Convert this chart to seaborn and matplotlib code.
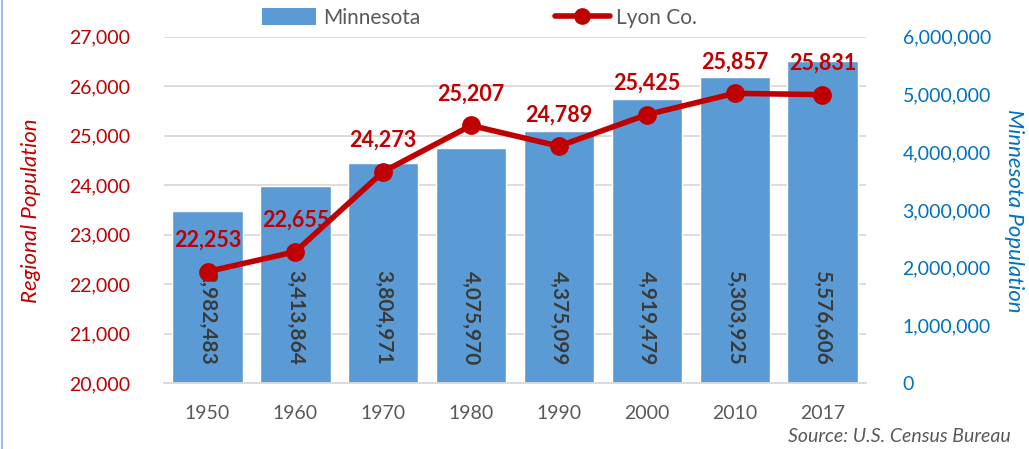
import numpy as np
import pandas as pd
import seaborn as sns
from matplotlib import pyplot as plt
from matplotlib.lines import Line2D
from matplotlib.patches import Patch
from matplotlib.ticker import FuncFormatter

years = ['1950', '1960', '1970', '1980', '1990', '2000', '2010', '2017']
minnesota = [2982483, 3413864, 3804971, 4075970, 4375099, 4919479, 5303925, 5576606]
lyon = [22253, 22655, 24273, 25207, 24789, 25425, 25857, 25831]

left_ticks = [20000, 21000, 22000, 23000, 24000, 25000, 26000, 27000]
right_ticks = [0, 1000000, 2000000, 3000000, 4000000, 5000000, 6000000]

blue = '#5B9BD5'
red = '#C00000'
axis_blue = '#0070C0'
gray = '#595959'

sns.set_style('white')
plt.rcParams['font.family'] = ['Lato', 'DejaVu Sans']

df = pd.DataFrame({'year': years, 'mn': minnesota, 'lyon': lyon})

fig = plt.figure(figsize=(10.29, 4.49), dpi=100)
ax = fig.add_axes([0.159, 0.147, 0.683, 0.771])

# bars on the main axes (right scale)
sns.barplot(data=df, x='year', y='mn', color=blue, saturation=1, width=0.8,
            ax=ax, zorder=2)
ax.set_ylim(0, 6000000)
ax.set_xlim(-0.5, len(years) - 0.5)

# gridlines follow the left scale, behind the bars
for v in left_ticks:
    ax.axhline((v - 20000) / 7000 * 6000000, color='#D9D9D9', lw=1.3, zorder=0)

for i, v in enumerate(minnesota):
    ax.text(i, 310000, f'{v:,}', rotation=270, rotation_mode='anchor',
            ha='right', va='center', fontsize=15, fontweight='bold',
            color='#3A3A3A', zorder=3)

ax.set_xlabel('')
ax.set_ylabel('')
for s in ['top', 'left', 'right']:
    ax.spines[s].set_visible(False)
ax.spines['bottom'].set_color('#D9D9D9')
ax.spines['bottom'].set_linewidth(1.3)

# line on a twin axes (left scale)
ax2 = ax.twinx()
sns.pointplot(data=df, x='year', y='lyon', color=red, markers='o',
              markersize=10.5, linewidth=4, ax=ax2)
ax2.set_ylim(20000, 27000)
ax2.set_xlim(-0.5, len(years) - 0.5)
ax2.yaxis.tick_left()
ax2.set_yticks(left_ticks)
ax2.yaxis.set_major_formatter(FuncFormatter(lambda v, p: f'{int(v):,}'))
ax2.tick_params(axis='y', colors=red, labelsize=14, length=0, pad=24)
ax2.set_ylabel('')
ax2.set_xlabel('')
for s in ax2.spines.values():
    s.set_visible(False)

# right scale ticks on the bar axes (after twinx)
ax.yaxis.tick_right()
ax.set_yticks(right_ticks)
ax.yaxis.set_major_formatter(FuncFormatter(lambda v, p: f'{int(v):,}'))
ax.tick_params(axis='y', colors=axis_blue, labelsize=14, length=0, pad=26)
ax.tick_params(axis='x', colors=gray, labelsize=14, length=0, pad=16)

for i, v in enumerate(lyon):
    ax2.text(i, v + 420, f'{v:,}', ha='center', va='bottom', fontsize=15.5,
             fontweight='bold', color=red)

fig.text(0.03, 0.53, 'Regional Population', rotation=90, ha='center',
         va='center', fontsize=16, style='italic', color=red)
fig.text(0.985, 0.53, 'Minnesota Population', rotation=270, ha='center',
         va='center', fontsize=16, style='italic', color=axis_blue)
fig.text(0.982, 0.027, 'Source: U.S. Census Bureau', ha='right', va='center',
         fontsize=14, style='italic', color=gray)

handles = [Patch(facecolor=blue, edgecolor='none'),
           Line2D([0], [0], color=red, lw=4, marker='o', markersize=11)]
fig.legend(handles, ['Minnesota', 'Lyon Co.'], loc='center',
           bbox_to_anchor=(0.466, 0.96), ncol=2, frameon=False, fontsize=15,
           labelcolor=gray, handlelength=2.6, handleheight=0.9,
           columnspacing=6.5, handletextpad=0.3)

fig.add_artist(Line2D([0.002, 0.002], [0, 1], color='#9DC3E6', lw=1.5,
                      transform=fig.transFigure))

fig.savefig('out.png', dpi=100)
